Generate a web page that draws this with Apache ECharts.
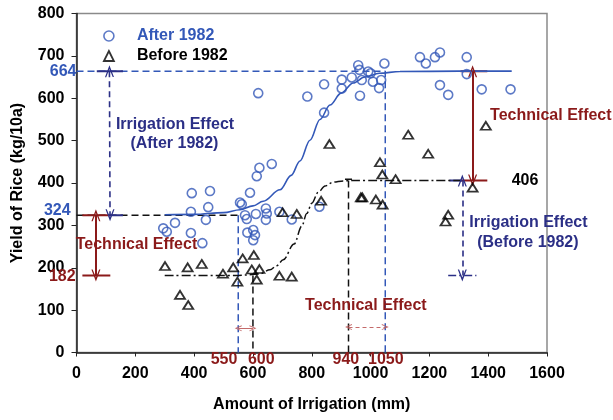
<!DOCTYPE html>
<html>
<head>
<meta charset="utf-8">
<script src="https://cdn.jsdelivr.net/npm/echarts@6/dist/echarts.min.js"></script>
<style>html,body{margin:0;padding:0;background:#fff}#c{width:613px;height:420px}</style>
</head>
<body>
<div id="c"></div>
<script>
// ---- data ----
const afterData = [[295,293],[307,285],[335,306],[389,332],[389,282],[392,376],[428,258],[440,313],[448,343],[454,381],
  [556,354],[562,350],[573,324],[579,315],[581,283],[590,377],[601,289],[607,277],[601,265],[610,327],[613,416],[622,436],
  [618,612],[644,340],[647,328],[644,313],[664,445],[690,332],[732,314],[785,604],[826,344],
  [842,633],[842,566],[902,644],[902,623],[936,649],[958,678],[962,667],[970,643],[992,663],[1000,659],[1008,639],
  [1036,643],[1029,624],[1047,682],[964,606],
  [1168,697],[1188,682],[1219,697],[1236,708],[1236,631],[1264,608],[1327,697],[1327,657],[1378,621],[1476,621]];
const beforeData = [[301,204],[378,201],[426,209],[352,136],[380,112],[498,186],[533,201],[547,167],[565,222],[603,230],
  [596,196],[622,197],[613,172],[690,181],[732,179],[701,331],[749,327],[832,358],[860,492],[967,366],[972,366],
  [1018,361],[1041,349],[1032,449],[1040,420],[1085,409],[1128,514],[1196,469],[1255,309],[1264,325],[1347,389],[1392,535]];
const afterCurve = [[300,325],[400,326],[500,330],[556,337],[600,346],[635,357],[692,384],[730,418],[760,452],[794,501],
  [828,550],[862,584],[900,612],[941,636],[980,650],[1030,659],[1100,663],[1300,664],[1480,664]];
const beforeCurve = [[300,182],[550,182],[620,185],[658,195],[681,205],[703,219],[740,256],[766,298],[783,328],[800,352],
  [822,378],[845,393],[873,402],[907,405],[940,406],[1305,406]];
const yieldLevels = [182, 324, 406, 664];        // marked yields
const irrigationMarks = [550, 600, 940, 1050];    // marked irrigation amounts
const xRange = [0, 1600, 200];
const yRange = [0, 800, 100];

// ---- styling ----
const BLUE = '#3358b8', NAVY = '#2b2f86', RED = '#8b1a1a', PINK = '#c46a6a';
const FONT = '"Liberation Sans", Arial, sans-serif';
const V = 'path://M0,10 L5,0 L10,10 L8.6,10 L5,3.2 L1.4,10 Z';

const [L182, L324, L406, L664] = yieldLevels;
const [I550, I600, I940, I1050] = irrigationMarks;
const I940draw = 925; // where the reference actually draws the 940 line

function ref(name, pts, color, type, width, z) {
  return {name, type:'line', data:pts, symbol:'none', silent:true, z:z||2,
    lineStyle:{color, type, width}, animation:false};
}
function arrow(x1,y1,x2,y2,color,type,width,size){
  return [{coord:[x1,y1], symbol:V, symbolSize:size||[9,12], lineStyle:{color,type,width}},
          {coord:[x2,y2], symbol:V, symbolSize:size||[9,12]}];
}

const chart = echarts.init(document.getElementById('c'), null, {renderer:'canvas'});
chart.setOption({
  animation:false,
  backgroundColor:'#fff',
  grid:{left:76.5, right:66, top:13.5, bottom:67.5, show:true, borderColor:'#8a8a8a', borderWidth:1.5, backgroundColor:'transparent'},
  legend:{
    orient:'vertical', left:98, top:23, itemWidth:10, itemHeight:10, itemGap:4,
    textStyle:{fontFamily:FONT, fontSize:16, fontWeight:'bold', lineHeight:16, padding:[0,0,0,18]},
    data:[
      {name:'After 1982', icon:'circle', itemStyle:{color:'#fff', borderColor:BLUE, borderWidth:1.6}, textStyle:{color:BLUE}},
      {name:'Before 1982', icon:'triangle', itemStyle:{color:'#fff', borderColor:'#000', borderWidth:1.8}, textStyle:{color:'#000'}}
    ]
  },
  xAxis:{type:'value', min:xRange[0], max:xRange[1], interval:xRange[2],
    name:'Amount of Irrigation (mm)', nameLocation:'middle', nameGap:44,
    nameTextStyle:{fontFamily:FONT, fontSize:16, fontWeight:'bold', color:'#000'},
    axisLine:{lineStyle:{color:'#222', width:1.5}}, axisTick:{show:true, length:4, lineStyle:{color:'#222'}},
    axisLabel:{fontFamily:FONT, fontSize:16, fontWeight:'bold', color:'#000', margin:13, formatter:v => String(v)},
    splitLine:{show:false}},
  yAxis:{type:'value', min:yRange[0], max:yRange[1], interval:yRange[2],
    name:'Yield of Rice (kg/10a)', nameLocation:'middle', nameGap:51,
    nameTextStyle:{fontFamily:FONT, fontSize:16, fontWeight:'bold', color:'#000'},
    axisLine:{show:true, lineStyle:{color:'#222', width:1.5}}, axisTick:{show:true, length:5, lineStyle:{color:'#222'}},
    axisLabel:{fontFamily:FONT, fontSize:16, fontWeight:'bold', color:'#000', margin:12, formatter:v => String(v)},
    splitLine:{show:false}},
  series:[
    ref('r664', [[0,L664],[I1050,L664],[I1050,0]], BLUE, [7,4], 1.5),
    ref('r550', [[I550,L324],[I550,0]], BLUE, [7,4], 1.5),
    ref('r324', [[0,L324],[I550,L324]], '#111', [7,4], 1.5),
    ref('r600', [[I600,L182],[I600,0]], '#111', [7,4], 1.5),
    ref('r940', [[I940draw,L406],[I940draw,0]], '#111', [7,4], 1.5),
    ref('capT', [[I940draw-12,L406+3],[I940draw+12,L406+3]], '#111', 'solid', 1.5),
    ref('redCapL1', [[20,L324],[115,L324]], RED, 'solid', 2, 3),
    ref('redCapL2', [[20,L182],[115,L182]], RED, 'solid', 2, 3),
    ref('redCapR1', [[1306,L664],[1397,L664]], RED, 'solid', 2, 3),
    ref('redCapR2', [[1306,L406],[1397,L406]], RED, 'solid', 2, 3),
    ref('navyCap1', [[69,L664],[158,L664]], NAVY, 'solid', 2, 3),
    ref('navyCap2', [[112,L324],[158,L324]], NAVY, 'solid', 2, 3),
    ref('navyCap3', [[1264,L182],[1360,L182]], NAVY, [8,3,2,3], 1.5, 3),
    ref('navyCap4', [[1268,L406],[1312,L406]], NAVY, 'solid', 2, 3),
    {name:'After curve', type:'line', data:afterCurve, symbol:'none', smooth:0.35, smoothMonotone:'x', silent:true, z:3,
      lineStyle:{color:BLUE, width:1.6}},
    {name:'Before curve', type:'line', data:beforeCurve, symbol:'none', smooth:0.35, smoothMonotone:'x', silent:true, z:3,
      lineStyle:{color:'#111', width:1.5, type:[9,3,2,3]}},
    {name:'arrows', type:'line', data:[], silent:true, z:4,
      markLine:{silent:true, animation:false, label:{show:false}, emphasis:{disabled:true},
        data:[
          arrow(112,L664,114,L324,NAVY,[6,4],1.6),
          arrow(1312,L406,1312,L182,NAVY,[6,4],1.6),
          arrow(66,L324,66,L182,RED,'solid',2),
          arrow(1347,L664,1347,L406,RED,'solid',2),
          arrow(I940draw,60,I1050,60,PINK,[4,3],1,[6,7]),
          arrow(I550,57,I600,57,PINK,'solid',1,[6,7])
        ]}},
    {name:'After 1982', type:'scatter', data:afterData, symbol:'circle', symbolSize:9, z:5,
      itemStyle:{color:'rgba(0,0,0,0)', borderColor:BLUE, borderWidth:1.6}},
    {name:'Before 1982', type:'scatter', data:beforeData, symbol:'triangle', symbolSize:[10,8], z:5,
      itemStyle:{color:'rgba(0,0,0,0)', borderColor:'#000', borderWidth:1.8}}
  ]
});

// ---- text annotations placed through the chart's own scales ----
const notes = [
  ['Irrigation Effect', 335, 537, NAVY, 'center'],
  ['(After 1982)', 333, 492, NAVY, 'center'],
  ['Technical Effect', 204, 254, RED, 'center'],
  [String(L664), 0, L664, BLUE, 'right'],
  [String(L324), -20, L324+10, BLUE, 'right'],
  [String(L182), -3, L182-4, RED, 'right'],
  [String(L406), 1480, L406, '#000', 'left'],
  ['Technical Effect', 1613, 558, RED, 'center'],
  ['Irrigation Effect', 1537, 306, NAVY, 'center'],
  ['(Before 1982)', 1535, 259, NAVY, 'center'],
  ['Technical Effect', 984, 110, RED, 'center'],
  [String(I550), 547, -16.5, RED, 'right'],
  [String(I600), 583, -16.5, RED, 'left'],
  [String(I940), 916, -16.5, RED, 'center'],
  [String(I1050), 1052, -16.5, RED, 'center']
];
const graphic = notes.map(([t,x,y,c,a]) => {
  const p = chart.convertToPixel({xAxisIndex:0, yAxisIndex:0}, [x,y]);
  return {type:'text', silent:true, z:100, x:p[0], y:p[1],
    style:{text:t, fill:c, font:'bold 16px ' + FONT, align:a, verticalAlign:'middle', textAlign:a, textVerticalAlign:'middle'}};
});
chart.setOption({graphic});
</script>
</body>
</html>
